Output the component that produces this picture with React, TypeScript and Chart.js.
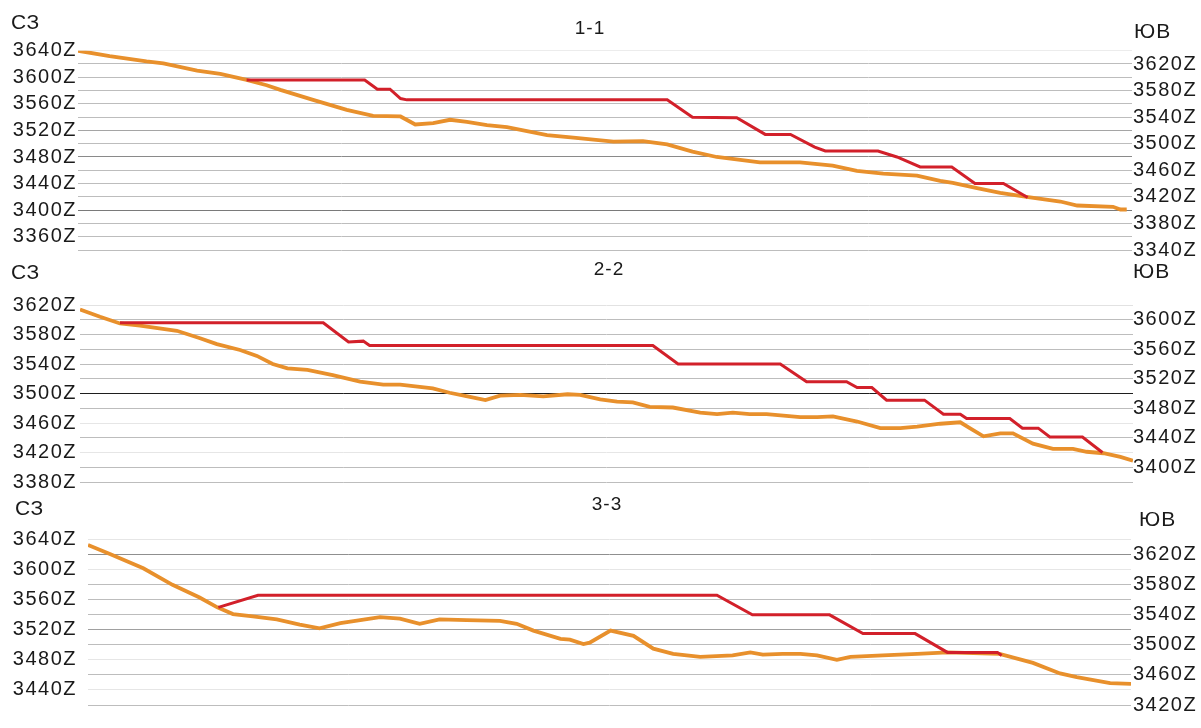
import React, { useEffect, useRef } from "react";
import { Chart, registerables } from "chart.js";

Chart.register(...registerables);

// ---------- DATA ----------
// Profile 1-1
const P1_GROUND_X = [0, 30, 65, 81, 113, 135, 160, 179, 192, 223, 255, 280, 306, 320, 337, 353, 369, 388, 407, 445, 470, 508, 536, 559, 583, 606, 647, 685, 716, 739, 764, 796, 818, 830, 853, 875, 900, 932, 948, 982, 989, 995];
const P1_GROUND_Y = [3640, 3632, 3624, 3621, 3610, 3605, 3596, 3588, 3581, 3566, 3551, 3542, 3541, 3529, 3531, 3536, 3533, 3528, 3525, 3513, 3509, 3503, 3504, 3499, 3488, 3480, 3472, 3472, 3467, 3459, 3455, 3452, 3444, 3441, 3433, 3426, 3420, 3413, 3407, 3405, 3401, 3401];
const P1_STEP_X = [160, 272, 284, 296, 306, 312, 559, 583, 625, 652, 676, 699, 709, 759, 777, 799, 829, 851, 878, 901];
const P1_STEP_Y = [3596, 3596, 3582, 3582, 3568, 3566, 3566, 3540, 3539, 3514, 3514, 3495, 3489, 3489, 3480, 3465, 3465, 3440, 3440, 3419];
const P1_LEFT_TICKS = [3640, 3600, 3560, 3520, 3480, 3440, 3400, 3360];
const P1_RIGHT_TICKS = [3620, 3580, 3540, 3500, 3460, 3420, 3380, 3340];

// Profile 2-2
const P2_GROUND_X = [0, 19, 38, 57, 92, 114, 130, 152, 168, 183, 197, 216, 240, 266, 288, 304, 335, 351, 368, 385, 399, 418, 440, 463, 475, 494, 510, 525, 541, 563, 589, 605, 620, 636, 652, 668, 684, 700, 715, 738, 760, 779, 795, 817, 836, 845, 858, 874, 886, 905, 924, 943, 956, 972, 988, 1000];
const P2_GROUND_Y = [3614, 3604, 3595, 3592, 3585, 3575, 3567, 3559, 3551, 3540, 3534, 3532, 3525, 3516, 3512, 3512, 3507, 3501, 3496, 3491, 3497, 3498, 3496, 3499, 3498, 3492, 3489, 3488, 3482, 3481, 3474, 3472, 3474, 3472, 3472, 3470, 3468, 3468, 3469, 3462, 3453, 3453, 3455, 3459, 3461, 3453, 3442, 3446, 3446, 3432, 3425, 3425, 3421, 3419, 3414, 3409];
const P2_STEP_X = [38, 231, 255, 269, 275, 544, 568, 665, 690, 728, 738, 752, 766, 802, 820, 836, 842, 883, 895, 910, 921, 952, 971];
const P2_STEP_Y = [3596, 3596, 3570, 3571, 3565, 3565, 3540, 3540, 3516, 3516, 3508, 3508, 3491, 3491, 3472, 3472, 3466, 3466, 3453, 3453, 3441, 3441, 3420];
const P2_LEFT_TICKS = [3620, 3580, 3540, 3500, 3460, 3420, 3380];
const P2_RIGHT_TICKS = [3600, 3560, 3520, 3480, 3440, 3400];

// Profile 3-3
const P3_GROUND_X = [0, 21, 53, 81, 107, 124, 139, 158, 181, 203, 222, 242, 261, 280, 299, 318, 337, 363, 395, 411, 427, 453, 462, 475, 481, 501, 523, 542, 561, 587, 618, 635, 647, 666, 683, 699, 718, 731, 762, 795, 824, 874, 906, 932, 948, 980, 1000];
const P3_GROUND_Y = [3633, 3621, 3602, 3580, 3563, 3550, 3541, 3538, 3534, 3527, 3522, 3529, 3533, 3537, 3535, 3528, 3534, 3533, 3532, 3528, 3519, 3508, 3507, 3501, 3503, 3519, 3512, 3495, 3488, 3484, 3486, 3490, 3487, 3488, 3488, 3486, 3480, 3484, 3486, 3488, 3490, 3488, 3476, 3462, 3457, 3449, 3448];
const P3_STEP_X = [125, 163, 603, 637, 711, 743, 793, 824, 872, 876];
const P3_STEP_Y = [3550, 3566, 3566, 3540, 3540, 3515, 3515, 3490, 3490, 3486];
const P3_LEFT_TICKS = [3640, 3600, 3560, 3520, 3480, 3440];
const P3_RIGHT_TICKS = [3620, 3580, 3540, 3500, 3460, 3420];

const TITLES = ["1-1", "2-2", "3-3"];
const LEFT_SIDE = "СЗ";
const RIGHT_SIDE = "ЮВ";

// ---------- STYLE / LAYOUT ----------
const FONT = "'Liberation Sans', Arial, sans-serif";
const GROUND_COLOR = "#E8902C";
const STEP_COLOR = "#D2202A";
const TEXT_COLOR = "#1a1a1a";

type PanelCfg = {
  top: number;
  height: number;
  padTop: number;
  padBottom: number;
  leftW: number;
  rightW: number;
  leftPad: number;
  rightPad: number;
  yMin: number;
  yMax: number;
  gx: number[];
  gy: number[];
  sx: number[];
  sy: number[];
  leftTicks: number[];
  rightTicks: number[];
  gridShade: Record<number, string>;
  title: string;
  titlePos: [number, number];
  leftPos: [number, number];
  rightPos: [number, number];
};

const PANELS: PanelCfg[] = [
  {
    top: 0, height: 265, padTop: 50.7, padBottom: 15, leftW: 78, rightW: 69, leftPad: 1, rightPad: 1,
    yMin: 3340, yMax: 3640,
    gx: P1_GROUND_X, gy: P1_GROUND_Y, sx: P1_STEP_X, sy: P1_STEP_Y,
    leftTicks: P1_LEFT_TICKS, rightTicks: P1_RIGHT_TICKS,
    gridShade: { 3640: "#ececec", 3400: "#7a7a7a", 3480: "#8a8a8a", 3520: "#a5a5a5" },
    title: TITLES[0], titlePos: [590, 28.5], leftPos: [11, 23], rightPos: [1134, 32.5],
  },
  {
    top: 255, height: 245, padTop: 50, padBottom: 18, leftW: 80, rightW: 68, leftPad: 3, rightPad: 0,
    yMin: 3380, yMax: 3620,
    gx: P2_GROUND_X, gy: P2_GROUND_Y, sx: P2_STEP_X, sy: P2_STEP_Y,
    leftTicks: P2_LEFT_TICKS, rightTicks: P2_RIGHT_TICKS,
    gridShade: { 3620: "#e2e2e2", 3500: "#1e1e1e", 3460: "#e6e6e6", 3420: "#e6e6e6" },
    title: TITLES[1], titlePos: [609, 15], leftPos: [11, 18], rightPos: [1133, 17.5],
  },
  {
    top: 490, height: 238, padTop: 49.7, padBottom: 11.3, leftW: 88, rightW: 70, leftPad: 11, rightPad: 2,
    yMin: 3420, yMax: 3640,
    gx: P3_GROUND_X, gy: P3_GROUND_Y, sx: P3_STEP_X, sy: P3_STEP_Y,
    leftTicks: P3_LEFT_TICKS, rightTicks: P3_RIGHT_TICKS,
    gridShade: { 3640: "#e6e6e6", 3620: "#8f8f8f", 3600: "#e6e6e6", 3520: "#a0a0a0", 3480: "#e6e6e6", 3440: "#e6e6e6" },
    title: TITLES[2], titlePos: [607, 15], leftPos: [15, 19], rightPos: [1139, 30],
  },
];

function zipXY(xs: number[], ys: number[]) {
  return xs.map((x, i) => ({ x, y: ys[i] }));
}

function Panel({ cfg }: { cfg: PanelCfg }) {
  const ref = useRef<HTMLCanvasElement | null>(null);

  useEffect(() => {
    if (!ref.current) return;
    const textPlugin = {
      id: "sideTexts",
      beforeDraw(chart: any) {
        chart.ctx.letterSpacing = "1.5px";
      },
      afterDraw(chart: any) {
        const ctx = chart.ctx;
        ctx.save();
        ctx.fillStyle = TEXT_COLOR;
        ctx.textBaseline = "middle";
        ctx.letterSpacing = "0.5px";
        ctx.font = `21px ${FONT}`;
        ctx.textAlign = "left";
        ctx.fillText(LEFT_SIDE, cfg.leftPos[0], cfg.leftPos[1]);
        ctx.letterSpacing = "1px";
        ctx.font = `21px ${FONT}`;
        ctx.fillText(RIGHT_SIDE, cfg.rightPos[0], cfg.rightPos[1]);
        ctx.letterSpacing = "1px";
        ctx.font = `19px ${FONT}`;
        ctx.textAlign = "center";
        ctx.fillText(cfg.title, cfg.titlePos[0], cfg.titlePos[1]);
        ctx.restore();
      },
    };

    const tickFont = { family: FONT, size: 20 };
    const chart = new Chart(ref.current, {
      type: "line",
      data: {
        datasets: [
          {
            label: "step",
            data: zipXY(cfg.sx, cfg.sy),
            borderColor: STEP_COLOR,
            borderWidth: 3,
            pointRadius: 0,
            tension: 0,
            order: 0,
            yAxisID: "y",
          },
          {
            label: "ground",
            data: zipXY(cfg.gx, cfg.gy),
            borderColor: GROUND_COLOR,
            borderWidth: 3.8,
            pointRadius: 0,
            tension: 0,
            order: 1,
            yAxisID: "y",
          },
        ],
      },
      options: {
        responsive: false,
        animation: false,
        parsing: true,
        layout: { padding: { top: cfg.padTop, bottom: cfg.padBottom, left: 0, right: 0 } },
        plugins: { legend: { display: false }, title: { display: false }, tooltip: { enabled: false } },
        scales: {
          x: { type: "linear", min: 0, max: 1000, display: false },
          y: {
            type: "linear",
            position: "left",
            min: cfg.yMin,
            max: cfg.yMax,
            ticks: {
              stepSize: 20,
              autoSkip: false,
              padding: cfg.leftPad,
              color: TEXT_COLOR,
              font: tickFont,
              callback: (v: any) => (cfg.leftTicks.includes(Number(v)) ? `${v}Z` : ""),
            },
            grid: {
              drawTicks: false,
              lineWidth: 1,
              color: (c: any) => cfg.gridShade[c.tick?.value] ?? "#bdbdbd",
            },
            border: { display: false },
            afterFit: (s: any) => {
              s.width = cfg.leftW;
            },
          },
          y2: {
            type: "linear",
            position: "right",
            min: cfg.yMin,
            max: cfg.yMax,
            ticks: {
              stepSize: 20,
              autoSkip: false,
              padding: cfg.rightPad,
              color: TEXT_COLOR,
              font: tickFont,
              callback: (v: any) => (cfg.rightTicks.includes(Number(v)) ? `${v}Z` : ""),
            },
            grid: { display: false, drawTicks: false },
            border: { display: false },
            afterFit: (s: any) => {
              s.width = cfg.rightW;
            },
          },
        },
      } as any,
      plugins: [textPlugin],
    });
    return () => chart.destroy();
  }, [cfg]);

  return (
    <canvas
      ref={ref}
      width={1201}
      height={cfg.height}
      style={{ position: "absolute", left: 0, top: cfg.top, width: 1201, height: cfg.height }}
    />
  );
}

export default function App() {
  return (
    <div style={{ position: "absolute", left: 0, top: 0, width: 1201, height: 728, background: "#ffffff", overflow: "hidden" }}>
      {PANELS.map((p, i) => (
        <Panel key={i} cfg={p} />
      ))}
    </div>
  );
}
